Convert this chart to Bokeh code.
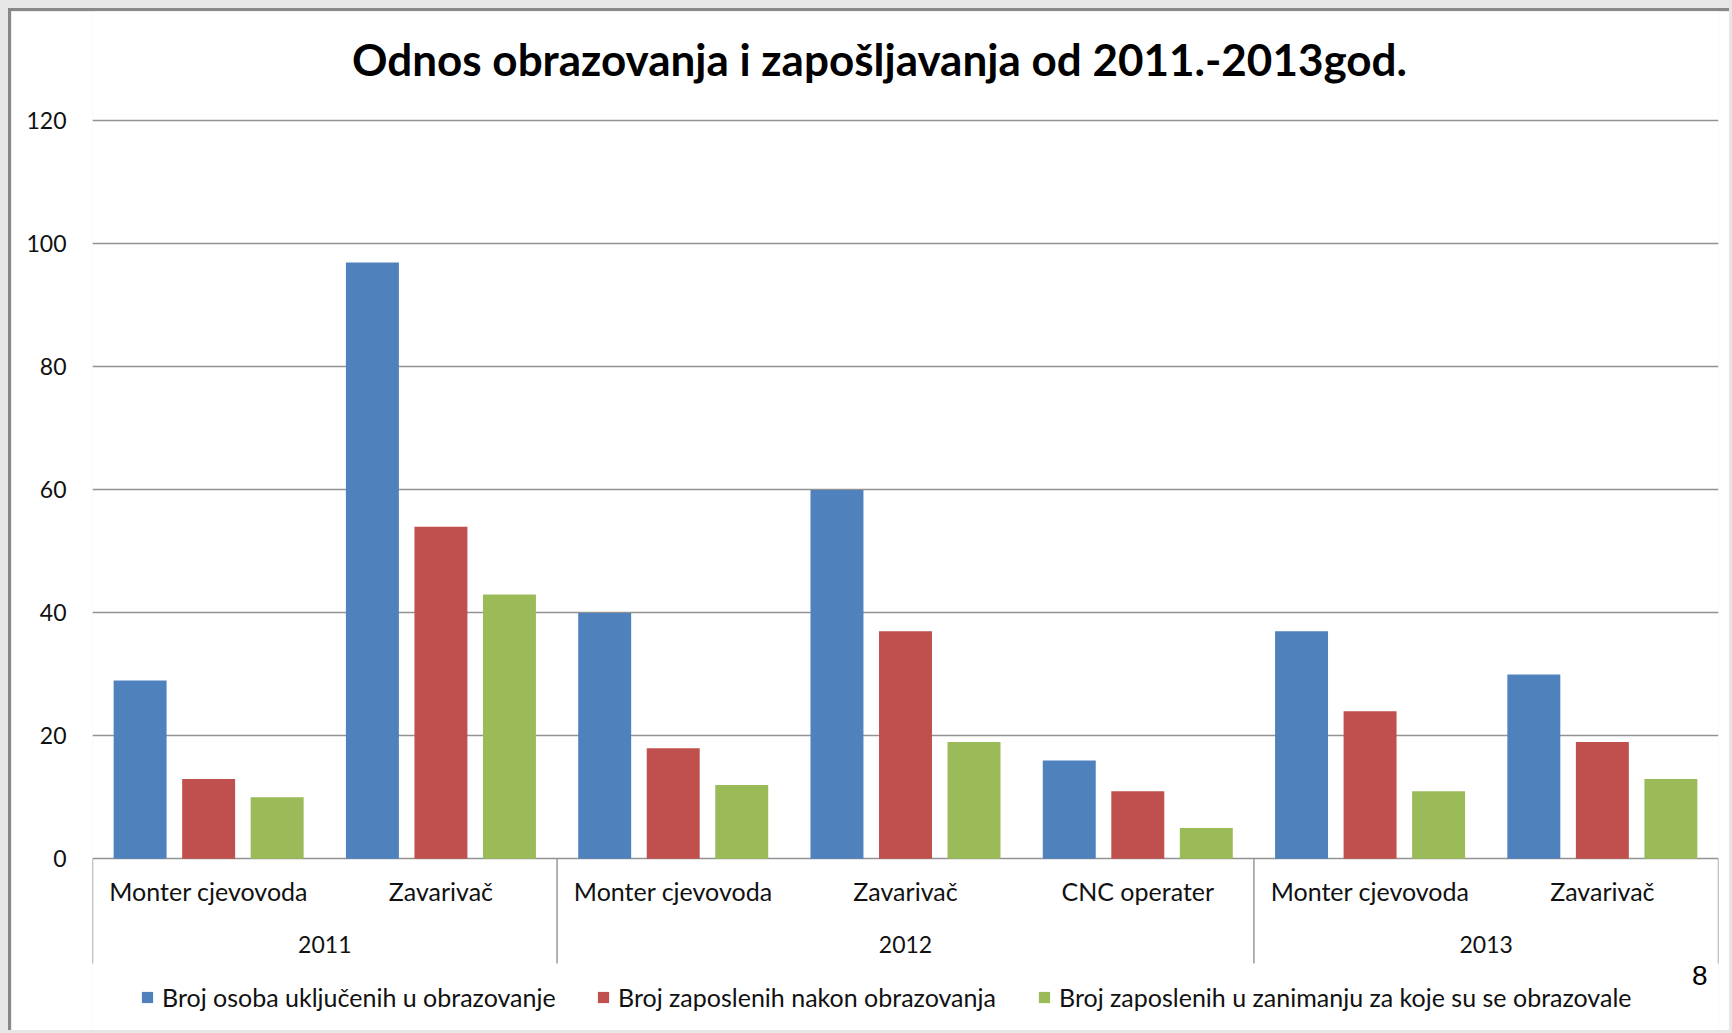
import numpy as np
from bokeh.plotting import figure
from bokeh.models import (Range1d, FixedTicker, ColumnDataSource, Legend, LegendItem,
                          GlobalInlineStyleSheet)
from bokeh.core.properties import value
from bokeh.embed import file_html
from bokeh.resources import INLINE

# ---------------- data ----------------
title_text = "Odnos obrazovanja i zapošljavanja od 2011.-2013god."
years = ["2011", "2012", "2013"]
year_sizes = [2, 3, 2]
jobs = ["Monter cjevovoda", "Zavarivač", "Monter cjevovoda", "Zavarivač",
        "CNC operater", "Monter cjevovoda", "Zavarivač"]
series_names = ["Broj osoba uključenih u obrazovanje",
                "Broj zaposlenih nakon obrazovanja",
                "Broj zaposlenih u zanimanju za koje su se obrazovale"]
educated = [29, 97, 40, 60, 16, 37, 30]
employed = [13, 54, 18, 37, 11, 24, 19]
employed_in_field = [10, 43, 12, 19, 5, 11, 13]
y_ticks = [0, 20, 40, 60, 80, 100, 120]
page_number = "8"

# ---------------- style ----------------
colors = ["#4F81BD", "#C0504D", "#9BBB59"]
grid_color = "#929292"
FONT = "Lato"
TICK_SIZE = "23px"
LABEL_SIZE = "25px"

Y_MIN, Y_MAX = -28.4, 137.8
n_cat = len(jobs)
centers = np.arange(n_cat) + 0.5
offsets = [-0.295, 0.0, 0.295]
bar_w = 0.228

p = figure(width=1721, height=1022, output_backend="svg", toolbar_location=None,
           x_range=Range1d(0, n_cat), y_range=Range1d(Y_MIN, Y_MAX),
           min_border_left=81, min_border_right=14, min_border_top=0, min_border_bottom=0)
p.outline_line_color = None
p.background_fill_color = "white"
p.border_fill_color = "white"
p.xaxis.visible = False
p.xgrid.visible = False

ticker = FixedTicker(ticks=y_ticks)
p.yaxis.ticker = ticker
p.yaxis.axis_line_color = None
p.yaxis.major_tick_line_color = None
p.yaxis.minor_tick_line_color = None
p.yaxis.major_tick_in = 0
p.yaxis.major_tick_out = 0
p.yaxis.major_label_standoff = 26
p.yaxis.major_label_text_font = FONT
p.yaxis.major_label_text_font_size = TICK_SIZE
p.yaxis.major_label_text_color = "#111111"
p.ygrid.ticker = ticker
p.ygrid.grid_line_color = grid_color
p.ygrid.grid_line_width = 1.4

# bars
renderers = []
for k, vals in enumerate([educated, employed, employed_in_field]):
    src = ColumnDataSource(dict(x=centers + offsets[k], top=vals))
    r = p.vbar(x="x", top="top", bottom=0, width=bar_w, source=src,
               fill_color=colors[k], line_color=None)
    renderers.append(r)

# category separators
bounds = np.concatenate([[0], np.cumsum(year_sizes)])
p.segment(x0=bounds, y0=[0] * len(bounds), x1=bounds, y1=[-17] * len(bounds),
          line_color=grid_color, line_width=1.4)

# job labels
p.text(x=centers, y=[-5.3] * n_cat, text=jobs, text_align="center",
       text_baseline="alphabetic", text_font=value(FONT), text_font_size=LABEL_SIZE,
       text_color="#111111")
# year labels
year_centers = (bounds[:-1] + bounds[1:]) / 2
p.text(x=year_centers, y=[-14.0] * len(years), text=years, text_align="center",
       text_baseline="alphabetic", text_font=value(FONT), text_font_size=TICK_SIZE,
       text_color="#111111")

# title
p.text(x=[3.388], y=[130.0], text=[title_text], text_align="center",
       text_baseline="alphabetic", text_font=value(FONT), text_font_size="44px",
       text_font_style="bold", text_color="#000000")

# page number
p.text(x=[6.919], y=[-19.0], text=[page_number], text_align="center",
       text_baseline="alphabetic", text_font=value("Liberation Sans"),
       text_font_size="28px", text_color="#000000")

# legends (one per item for exact placement)
legend_x = [48, 504, 945]
for k in range(3):
    lg = Legend(items=[LegendItem(label=series_names[k], renderers=[renderers[k]])],
                location=(legend_x[k], 21), orientation="horizontal",
                glyph_width=14, glyph_height=14, label_standoff=8,
                padding=0, margin=0, border_line_color=None,
                background_fill_alpha=0, label_text_font=FONT,
                label_text_font_size=LABEL_SIZE, label_text_color="#111111")
    p.add_layout(lg)

p.styles = {"border-left": "3px solid #888888", "border-top": "3px solid #888888"}
p.stylesheets = [GlobalInlineStyleSheet(
    css="html {background-color: #FFFFFF;} "
        "body {background-color: #E6E6E6; margin: 0; padding: 8px 0 0 8px; "
        "overflow: hidden; line-height: 0;}")]

open("out.html", "w").write(file_html(p, INLINE))
